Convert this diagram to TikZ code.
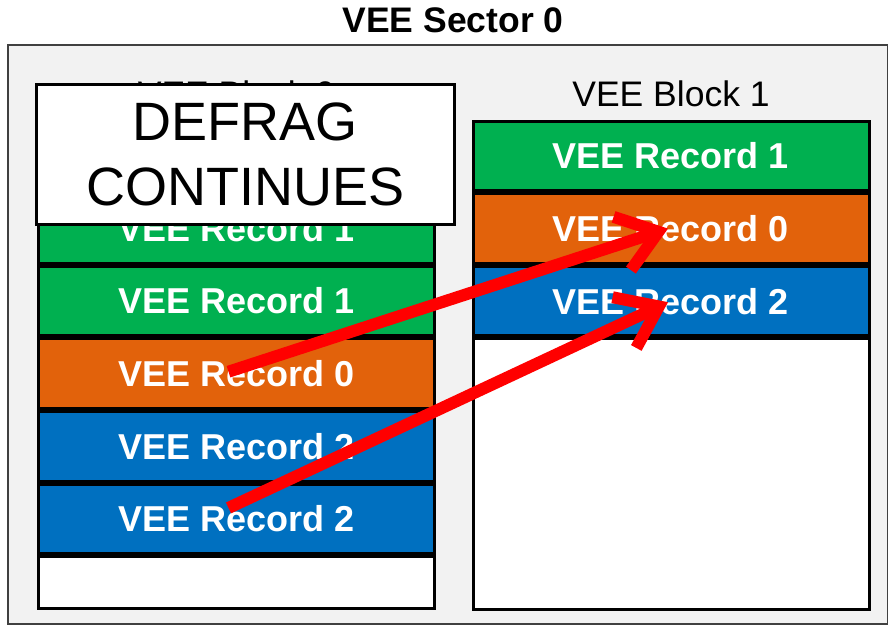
\documentclass[tikz,border=0pt]{standalone}
\usepackage{fontspec}
\setmainfont{Liberation Sans}
\usepackage{tikz}
\usetikzlibrary{positioning, arrows.meta, calc}

\definecolor{recgreen}{HTML}{00B050}
\definecolor{recorange}{HTML}{E2620B}
\definecolor{recblue}{HTML}{0070C0}
\definecolor{sectorbg}{HTML}{F2F2F2}
\definecolor{sectorline}{HTML}{404040}

\begin{document}
\begin{tikzpicture}[
    x=1pt, y=1pt,
    rec/.style={draw, line width=3pt, minimum width=396pt, minimum height=69.6pt, text=white,
        font=\fontsize{36}{42}\selectfont\bfseries},
    green/.style={rec, fill=recgreen},
    orange/.style={rec, fill=recorange},
    blue/.style={rec, fill=recblue},
    empty/.style={rec, fill=white},
    blocklabel/.style={font=\fontsize{35.5}{42}\selectfont},
    move/.style={draw=red, line width=12pt, -{Straight Barb[length=38pt, width=56pt]}}
]
\useasboundingbox (0,0) rectangle (888,627);

% Sector
\draw[sectorline, fill=sectorbg, line width=2pt] (8,3) rectangle (888,582);
\node[font=\fontsize{35.5}{42}\selectfont\bfseries] (title) at (453,607) {VEE Sector 0};

% Block 1
\node[green] (r1) at (671,471) {VEE Record 1};
\node[orange, below=0pt of r1] (r2) {VEE Record 0};
\node[blue, below=0pt of r2] (r3) {VEE Record 2};
\node[empty, minimum height=270pt, below=0pt of r3] (r4) {};
\node[blocklabel, above=9pt of r1] (lbl1) {VEE Block 1};

% Block 0
\node[green] (l1) at (236.5,398.5) {VEE Record 1};
\node[green, below=0pt of l1] (l2) {VEE Record 1};
\node[orange, below=0pt of l2] (l3) {VEE Record 0};
\node[blue, below=0pt of l3] (l4) {VEE Record 2};
\node[blue, below=0pt of l4] (l5) {VEE Record 2};
\node[empty, minimum height=52pt, below=0pt of l5] (l6) {};
\node[blocklabel, anchor=center] (lbl0) at (lbl1 -| l1) {VEE Block 0};

% Defrag notice
\node[draw, line width=3pt, fill=white, minimum width=418pt, minimum height=140pt,
    align=center, font=\fontsize{54}{65}\selectfont] (defrag) at (245.5,472.5) {DEFRAG\\CONTINUES};

% Moves
\coordinate (from0) at ($(l3.center)+(-8,2)$);
\coordinate (to0) at ($(r2.center)+(-3,0)$);
\coordinate (from2) at ($(l5.center)+(-8,11)$);
\coordinate (to2) at ($(r3.center)+(-3,-1)$);
\draw[move] (from0) -- (to0);
\draw[move] (from2) -- (to2);

\end{tikzpicture}
\end{document}
